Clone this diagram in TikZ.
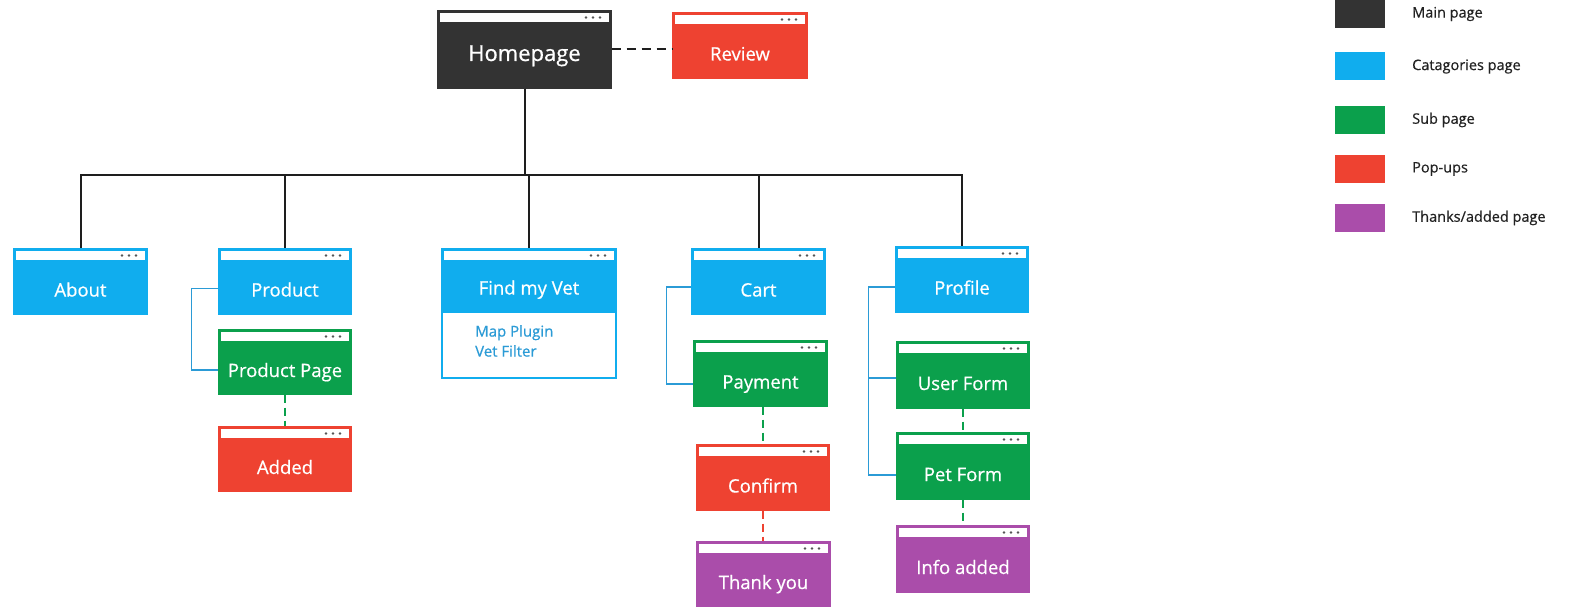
\documentclass[tikz,border=0pt]{standalone}
\usepackage{fontspec}
\setmainfont{Open Sans}[FakeBold=0.6]
\definecolor{cdark}{HTML}{333333}
\definecolor{cblue}{HTML}{10ADEE}
\definecolor{cgreen}{HTML}{0BA04C}
\definecolor{cred}{HTML}{EE4231}
\definecolor{cpurple}{HTML}{AA4DAA}
\definecolor{cline}{HTML}{2B9BD6}
\definecolor{linedark}{HTML}{1E1E1E}
\definecolor{dotgray}{HTML}{555555}
\definecolor{legtxt}{HTML}{222222}
\begin{document}
\begin{tikzpicture}[x=1pt,y=-1pt,
  pagebox/.style={draw=#1, fill=#1, line width=1.2pt, minimum width=133pt,
    minimum height=65pt, inner sep=0pt, text=white,
    font=\fontsize{18.5}{20}\selectfont, text height=30pt, text depth=0pt,
    path picture={
      \fill[white] ([xshift=2pt,yshift=-2pt]path picture bounding box.north west)
        rectangle ([xshift=-2pt,yshift=-11pt]path picture bounding box.north east);
      \foreach \d in {11,18,25}
        \fill[dotgray] ([xshift=-\d pt,yshift=-6.5pt]path picture bounding box.north east) circle (1.3pt);
    }},
  tree/.style={draw=linedark, line width=2pt},
  bracket/.style={draw=cline, line width=1.8pt},
  dashline/.style={line width=2pt, dash pattern=on 8pt off 5pt},
  legsq/.style={fill=#1, minimum width=50pt, minimum height=28pt, inner sep=0pt},
  legtext/.style={anchor=west, text=legtxt, font=\fontsize{14.5}{16}\selectfont, inner sep=0pt}
]
\useasboundingbox (0,0) rectangle (1569,607);

% main
\node[pagebox=cdark, minimum width=173pt, minimum height=77pt,
      font=\fontsize{22}{24}\selectfont, text height=23pt] (home) at (524.5,49.5) {Homepage};
\node[pagebox=cred, minimum width=134pt] (review) at (740,45.5) {Review};

% categories
\node[pagebox=cblue] (about) at (80.5,281.5) {About};
\node[pagebox=cblue, minimum width=132pt] (product) at (285,281.5) {Product};
\node[draw=cblue, fill=white, line width=1.5pt, minimum width=174pt, minimum height=66pt, inner sep=0pt] (vetbody) at (529,345) {};
\node[pagebox=cblue, minimum width=174pt, minimum height=63pt, text height=28pt] (vethead) at (529,280.5) {Find my Vet};
\node[anchor=north west, text=cline, font=\fontsize{15}{20}\selectfont, align=left, inner sep=0pt] (vetlist) at (475,325) {Map Plugin\\Vet Filter};
\node[pagebox=cblue] (cart) at (758.5,281.5) {Cart};
\node[pagebox=cblue, minimum width=132pt] (profile) at (962,279.5) {Profile};

% sub pages
\node[pagebox=cgreen, minimum width=132pt, minimum height=64pt] (prodpage) at (285,362) {Product Page};
\node[pagebox=cred, minimum width=132pt, minimum height=64pt] (added) at (285,459) {Added};
\node[pagebox=cgreen] (payment) at (760.5,373.5) {Payment};
\node[pagebox=cred, minimum width=132pt] (confirm) at (763,477.5) {Confirm};
\node[pagebox=cpurple, minimum height=64pt] (thanks) at (763.5,574) {Thank you};
\node[pagebox=cgreen, minimum width=132pt, minimum height=66pt] (userform) at (963,375) {User Form};
\node[pagebox=cgreen, minimum width=132pt, minimum height=66pt] (petform) at (963,466) {Pet Form};
\node[pagebox=cpurple, minimum width=132pt, minimum height=66pt] (info) at (963,559) {Info added};

% tree
\coordinate (bus) at (0,175);
\foreach \n in {about,product,vethead,cart,profile}
  \draw[tree] (home.south) -- (home.south |- bus) -| (\n.north);

% home - review
\draw[draw=linedark, line width=2pt, dash pattern=on 9pt off 6pt] (home.east) -- (home.east -| review.west);

% brackets
\draw[bracket] ([yshift=-7pt]product.west) -- ++(-27,0) |- ([yshift=-8pt]prodpage.west);
\draw[bracket] ([yshift=-5.5pt]cart.west) -- ++(-25,0) |- ([yshift=-10.5pt]payment.west);
\draw[bracket] ([yshift=-7.5pt]profile.west) -- ++(-27,0) coordinate (pb) |- ([yshift=-9pt]petform.west);
\draw[bracket] ([yshift=-3pt]userform.west) -| (pb);

% dashed sub links
\draw[dashline, draw=cgreen] (prodpage.south) -- (prodpage.south |- added.north);
\draw[dashline, draw=cgreen] (confirm.north |- payment.south) -- (confirm.north);
\draw[dashline, draw=cred] (confirm.south) -- (confirm.south |- thanks.north);
\draw[dashline, draw=cgreen] (userform.south) -- (petform.north);
\draw[dashline, draw=cgreen] (petform.south) -- (info.north);

% legend
\node[legsq=cdark] (lmain) at (1360,14) {};
\node[legtext] (lmaint) at (1412,14) {Main page};
\node[legsq=cblue] (lcat) at (1360,66.5) {};
\node[legtext] (lcatt) at (1412,66.5) {Catagories page};
\node[legsq=cgreen] (lsub) at (1360,120) {};
\node[legtext] (lsubt) at (1412,120) {Sub page};
\node[legsq=cred] (lpop) at (1360,169) {};
\node[legtext] (lpopt) at (1412,169) {Pop-ups};
\node[legsq=cpurple] (lthx) at (1360,218) {};
\node[legtext] (lthxt) at (1412,218) {Thanks/added page};
\end{tikzpicture}
\end{document}
